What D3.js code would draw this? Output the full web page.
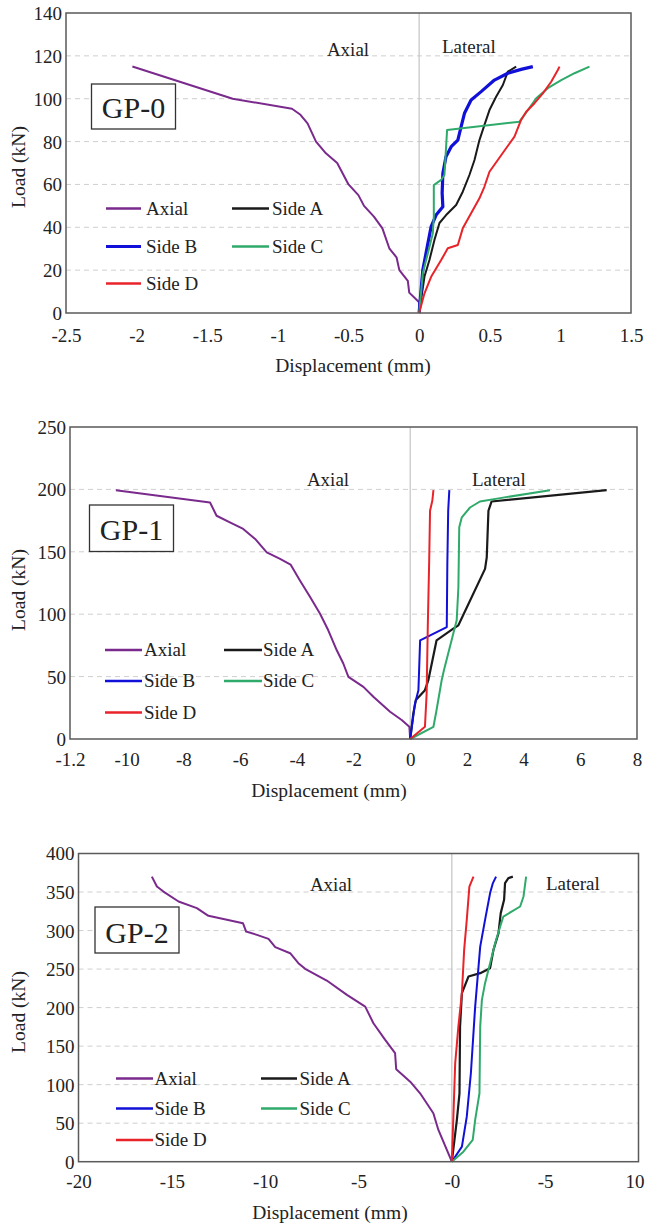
<!DOCTYPE html>
<html>
<head>
<meta charset="utf-8">
<script src="https://cdn.jsdelivr.net/npm/d3@7"></script>
<style>
  html, body { margin: 0; padding: 0; background: #fff; }
  svg { display: block; }
  svg text { font-family: "Liberation Serif", "Times New Roman", Times, serif !important; fill: #222; }
</style>
</head>
<body>
<svg id="chart" width="646" height="1226"></svg>
<script>
// ---------------- DATA ----------------
const seriesNames = ["Axial", "Side A", "Side B", "Side C", "Side D"];
const seriesColors = ["#7a2a8c", "#1a1a1a", "#1010d8", "#2faa6a", "#e8232a"];

// GP-0
const gp0Axial = [[0,0],[0,5],[-0.07,9.5],[-0.08,15],[-0.14,20],[-0.16,26],[-0.21,30],[-0.26,39.5],[-0.32,45],[-0.39,50],[-0.43,55],[-0.5,60],[-0.58,70],[-0.66,74.5],[-0.73,80],[-0.79,88.5],[-0.84,92.5],[-0.9,95.3],[-1.32,100],[-2.03,115]];
const gp0SideA = [[0,0],[0.038,17],[0.073,24.7],[0.108,34],[0.144,42],[0.191,45.7],[0.262,50.4],[0.309,56.6],[0.356,64.4],[0.392,71.4],[0.427,80.7],[0.462,87.7],[0.498,94.7],[0.545,100.9],[0.593,106.4],[0.628,112.6],[0.687,115]];
const gp0SideB = [[0,0],[0.026,20],[0.062,32.5],[0.085,40.3],[0.12,45.7],[0.168,49.6],[0.163,55.9],[0.168,65.2],[0.19,72.9],[0.227,77.6],[0.274,80.7],[0.297,86.9],[0.321,93.2],[0.368,99.4],[0.439,103.3],[0.533,108.7],[0.628,111.9],[0.722,113.7],[0.805,115]];
const gp0SideC = [[0,0],[0.026,18.5],[0.062,27.9],[0.097,37.2],[0.104,44.9],[0.104,59.7],[0.156,62.1],[0.179,64.4],[0.198,85.4],[0.71,89.3],[0.77,94.7],[0.829,100.2],[0.911,104.9],[1.006,108.7],[1.1,111.9],[1.206,115]];
const gp0SideD = [[0,0],[0.038,9.2],[0.085,16.9],[0.156,24.7],[0.203,30.2],[0.274,31.7],[0.309,39.5],[0.368,46.5],[0.427,53.5],[0.462,58.9],[0.498,65.9],[0.557,71.4],[0.616,76.9],[0.675,82.3],[0.722,90.1],[0.758,93.9],[0.817,97.9],[0.876,102.5],[0.935,107.9],[0.982,113.4],[0.994,115]];
const gp0XTicks = [-2.5, -2, -1.5, -1, -0.5, 0, 0.5, 1, 1.5];
const gp0XTickLabels = ["-2.5", "-2", "-1.5", "-1", "-0.5", "0", "0.5", "1", "1.5"];
const gp0YTicks = [0, 20, 40, 60, 80, 100, 120, 140];

// GP-1
const gp1Axial = [[0,0],[-0.03,9.8],[-0.3,15.2],[-0.71,21.8],[-1.3,33.8],[-1.65,41.8],[-2.18,49.8],[-2.36,60.5],[-2.59,71.1],[-2.89,87.1],[-3.18,100.4],[-3.53,113.7],[-3.89,127],[-4.22,139.8],[-4.59,144.3],[-5.06,149.6],[-5.47,160.3],[-5.89,168.3],[-6.36,173.6],[-6.83,178.9],[-7.06,189.5],[-10.38,199.4]];
const gp1SideA = [[0,0],[0.11,20.5],[0.2,31.2],[0.52,39.1],[0.64,47.1],[0.93,79.1],[1.52,88.4],[1.7,91.1],[2.64,136.3],[2.7,145.6],[2.76,182.9],[2.87,190.3],[6.93,199.4]];
const gp1SideB = [[0,0],[0.17,28.5],[0.29,39.1],[0.35,79.1],[1.29,89.7],[1.31,140.3],[1.34,182.9],[1.38,199.4]];
const gp1SideC = [[0,0],[0.82,9.8],[0.93,23.2],[1.11,47.1],[1.19,55.1],[1.34,68.5],[1.46,79.1],[1.64,95.1],[1.7,121.6],[1.73,169.6],[1.82,177.6],[2.11,185.5],[2.46,190.3],[3.17,193],[4.93,199.4]];
const gp1SideD = [[0,0],[0.52,9.8],[0.58,36.5],[0.62,89.7],[0.67,143],[0.7,182.9],[0.78,190.9],[0.82,199.4]];
const gp1XTicks = [-12, -10, -8, -6, -4, -2, 0, 2, 4, 6, 8];
const gp1XTickLabels = ["-1.2", "-10", "-8", "-6", "-4", "-2", "0", "2", "4", "6", "8"];
const gp1YTicks = [0, 50, 100, 150, 200, 250];

// GP-2
const gp2Axial = [[0,0],[-0.72,41.2],[-0.99,62.9],[-1.7,88.8],[-2.23,103.9],[-2.98,120],[-3.04,140.8],[-3.57,158.1],[-4.2,179.7],[-4.64,201.3],[-5.62,216.5],[-6.7,235.1],[-7.86,250.3],[-8.22,257.7],[-8.66,270.6],[-9.46,278.4],[-9.82,289.2],[-10.44,294.4],[-11.02,298.7],[-11.19,309.6],[-12.05,313.9],[-13.04,319.1],[-13.66,329.1],[-14.64,337.7],[-15.45,350.6],[-15.8,357.1],[-16.07,370]];
const gp2SideA = [[0,0],[0.27,54.2],[0.41,88.8],[0.44,175.3],[0.54,218.7],[0.89,240.3],[1.52,244.7],[2.05,251.2],[2.23,274.9],[2.5,296.6],[2.62,322.6],[2.8,339.9],[2.85,361.6],[3.03,368],[3.27,370]];
const gp2SideB = [[0,0],[0.54,19.5],[0.8,58.4],[1.02,114.8],[1.25,201.3],[1.43,253.2],[1.52,279.2],[1.78,313.9],[2.05,348.6],[2.2,361.6],[2.37,370]];
const gp2SideC = [[0,0],[0.62,13],[1.12,28.2],[1.25,54.2],[1.48,88.8],[1.52,175.3],[1.61,210],[1.78,231.7],[2.05,257.7],[2.32,283.6],[2.59,305.2],[2.76,318.2],[3.66,331.2],[3.84,344.2],[3.98,370]];
const gp2SideD = [[0,0],[0.18,127.8],[0.35,175.3],[0.54,218.7],[0.66,274.9],[0.8,313.9],[0.94,357.1],[1.16,370]];
const gp2XTicks = [-20, -15, -10, -5, 0, 5, 10];
const gp2XTickLabels = ["-20", "-15", "-10", "-5", "-0", "-5", "10"];
const gp2YTicks = [0, 50, 100, 150, 200, 250, 300, 350, 400];

const panelTitles = ["GP-0", "GP-1", "GP-2"];
const xAxisTitle = "Displacement (mm)";
const yAxisTitle = "Load (kN)";

// ---------------- LAYOUT ----------------
const FONT = '"Liberation Serif", "Times New Roman", Times, serif';
const svg = d3.select("#chart");

const panels = [
  {
    title: panelTitles[0], series: [gp0Axial, gp0SideA, gp0SideB, gp0SideC, gp0SideD],
    widths: [2, 2, 3.2, 2, 2],
    xDomain: [-2.5, 1.5], yDomain: [0, 140], xTicks: gp0XTicks, xLabels: gp0XTickLabels, yTicks: gp0YTicks,
    left: 66, right: 631, top: 13, bottom: 313,
    box: [91.5, 84, 84, 45], boxBase: 118,
    axialPos: [348, 56], lateralPos: [442, 53],
    legX: [106, 141, 146, 232, 269, 272], legY: [208.5, 246.5, 283.5],
    xTitleX: 353, xTitleY: 372, yTitleCY: 167, xTickY: 342
  },
  {
    title: panelTitles[1], series: [gp1Axial, gp1SideA, gp1SideB, gp1SideC, gp1SideD],
    widths: [2, 2.2, 2, 2, 2],
    xDomain: [-12, 8], yDomain: [0, 250], xTicks: gp1XTicks, xLabels: gp1XTickLabels, yTicks: gp1YTicks,
    left: 70, right: 637, top: 427, bottom: 739,
    box: [89.5, 505, 84, 46.5], boxBase: 540,
    axialPos: [328, 486], lateralPos: [472, 486],
    legX: [105, 142, 144, 224, 262, 263], legY: [650, 681, 712.5],
    xTitleX: 329, xTitleY: 797, yTitleCY: 590, xTickY: 766
  },
  {
    title: panelTitles[2], series: [gp2Axial, gp2SideA, gp2SideB, gp2SideC, gp2SideD],
    widths: [2, 2.2, 2, 2, 2],
    xDomain: [-20, 10], yDomain: [0, 400], xTicks: gp2XTicks, xLabels: gp2XTickLabels, yTicks: gp2YTicks,
    left: 78.5, right: 638.5, top: 853.5, bottom: 1161.7,
    box: [95, 907, 84, 46], boxBase: 943,
    axialPos: [331, 891], lateralPos: [546, 890],
    legX: [116, 153, 154.5, 261, 297, 299.5], legY: [1078.5, 1108.5, 1140],
    xTitleX: 330, xTitleY: 1219, yTitleCY: 1012, xTickY: 1188
  }
];

panels.forEach(p => {
  const g = svg.append("g").attr("font-family", FONT);
  const x = d3.scaleLinear().domain(p.xDomain).range([p.left, p.right]);
  const y = d3.scaleLinear().domain(p.yDomain).range([p.bottom, p.top]);

  // grid lines
  g.selectAll("line.grid")
    .data(p.yTicks.filter(t => t > p.yDomain[0] && t < p.yDomain[1]))
    .enter().append("line")
    .attr("x1", p.left).attr("x2", p.right)
    .attr("y1", d => y(d)).attr("y2", d => y(d))
    .attr("stroke", "#cfcfcf").attr("stroke-width", 1)
    .attr("stroke-dasharray", "5,4");

  // zero vertical line
  g.append("line")
    .attr("x1", x(0)).attr("x2", x(0))
    .attr("y1", p.top).attr("y2", p.bottom)
    .attr("stroke", "#c4c4c4").attr("stroke-width", 1.2);

  // axes
  const xAxis = d3.axisBottom(x).tickValues(p.xTicks).tickSize(0)
    .tickFormat((d, i) => p.xLabels[i]);
  const gx = g.append("g").attr("transform", `translate(0,${p.bottom})`).call(xAxis)
    .attr("font-family", FONT).attr("font-size", 19);
  gx.select(".domain").remove();
  gx.selectAll("text")
    .attr("y", p.xTickY - p.bottom).attr("dy", 0)
    .attr("dx", (d, i) => (i === p.xTicks.length - 1 && p.right > 637) ? -4 : 0)
    .style("fill", "#222");

  const yAxis = d3.axisLeft(y).tickValues(p.yTicks).tickSize(0);
  const gy = g.append("g").attr("transform", `translate(${p.left},0)`).call(yAxis)
    .attr("font-family", FONT).attr("font-size", 19);
  gy.select(".domain").remove();
  gy.selectAll("text")
    .attr("x", -4).attr("dy", "0.34em")
    .style("fill", "#222");

  // series lines
  const line = d3.line().x(d => x(d[0])).y(d => y(d[1]));
  p.series.forEach((s, i) => {
    g.append("path").datum(s)
      .attr("d", line)
      .attr("fill", "none")
      .attr("stroke", seriesColors[i])
      .attr("stroke-width", p.widths[i])
      .attr("stroke-linejoin", "round");
  });

  // border
  g.append("rect")
    .attr("x", p.left).attr("y", p.top)
    .attr("width", p.right - p.left).attr("height", p.bottom - p.top)
    .attr("fill", "none").attr("stroke", "#5a5a5a").attr("stroke-width", 1.5);

  // Axial / Lateral annotations
  g.append("text").attr("x", p.axialPos[0]).attr("y", p.axialPos[1])
    .attr("text-anchor", "middle").attr("font-size", 19).text("Axial");
  g.append("text").attr("x", p.lateralPos[0]).attr("y", p.lateralPos[1])
    .attr("font-size", 19).text("Lateral");

  // title box
  g.append("rect")
    .attr("x", p.box[0]).attr("y", p.box[1]).attr("width", p.box[2]).attr("height", p.box[3])
    .attr("fill", "#fff").attr("stroke", "#333").attr("stroke-width", 1.3);
  g.append("text")
    .attr("x", p.box[0] + p.box[2] / 2).attr("y", p.boxBase)
    .attr("text-anchor", "middle").attr("font-size", 30).text(p.title);

  // legend
  const legPos = [[0, 0], [1, 0], [0, 1], [1, 1], [0, 2]];
  seriesNames.forEach((name, i) => {
    const col = legPos[i][0], row = legPos[i][1];
    const x1 = col === 0 ? p.legX[0] : p.legX[3];
    const x2 = col === 0 ? p.legX[1] : p.legX[4];
    const tx = col === 0 ? p.legX[2] : p.legX[5];
    const ly = p.legY[row];
    g.append("line").attr("x1", x1).attr("x2", x2).attr("y1", ly).attr("y2", ly)
      .attr("stroke", seriesColors[i]).attr("stroke-width", i === 2 && p.title === "GP-0" ? 3 : 2.6);
    g.append("text").attr("x", tx).attr("y", ly).attr("dy", "0.34em")
      .attr("font-size", 19).text(name);
  });

  // axis titles
  g.append("text")
    .attr("x", p.xTitleX).attr("y", p.xTitleY)
    .attr("text-anchor", "middle").attr("font-size", 19.5).text(xAxisTitle);
  g.append("text")
    .attr("transform", `translate(25,${p.yTitleCY}) rotate(-90)`)
    .attr("text-anchor", "middle").attr("font-size", 19.5).text(yAxisTitle);
});
</script>
</body>
</html>
